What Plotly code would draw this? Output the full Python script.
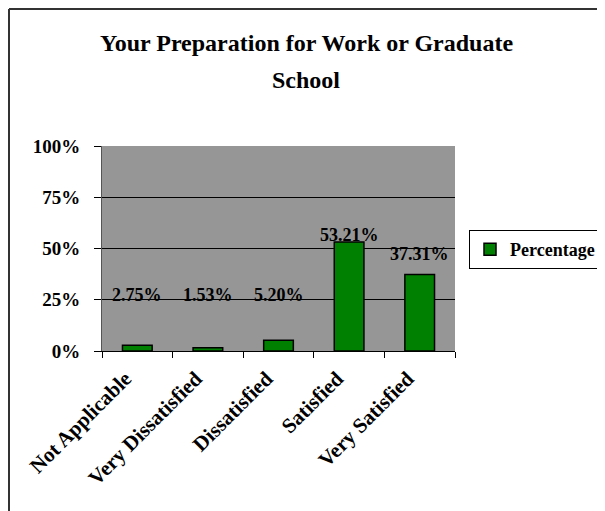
import plotly.graph_objects as go

categories = ["Not Applicable", "Very Dissatisfied", "Dissatisfied", "Satisfied", "Very Satisfied"]
percentages = [2.75, 1.53, 5.20, 53.21, 37.31]
label_texts = ["2.75%", "1.53%", "5.20%", "53.21%", "37.31%"]
y_tickvals = [0, 25, 50, 75, 100]
y_ticktext = ["0%", "25%", "50%", "75%", "100%"]

SERIF = "Liberation Serif, Times New Roman, serif"
OFF = 8  # the page's body margin pushes the figure 8px right and down
W, H = 605 - OFF, 511 - OFF
PL, PR, PT, PB = 102, 455, 146, 351  # plot box in screen px
PW, PH = PR - PL, PB - PT
L, T = PL - OFF, PT - OFF
R, B = W - L - PW, H - T - PH


def px_x(px):
    return (px - PL) / PW


def px_y(py):
    return (PB - py) / PH


fig = go.Figure(
    go.Bar(
        x=categories,
        y=percentages,
        name="Percentage",
        width=0.42,
        marker=dict(color="#008000", line=dict(color="black", width=1.5)),
    )
)

# Excel placed the data labels a bit oddly; offsets
label_shifts = [50, 53, 45, 7, 21]
for cat, val, txt, shift in zip(categories, percentages, label_texts, label_shifts):
    fig.add_annotation(
        x=cat, y=val, text=txt, showarrow=False, yshift=shift, yanchor="middle",
        font=dict(family=SERIF, size=18, color="black", weight="bold"),
    )

for line, ypx in (("Your Preparation for Work or Graduate", 43), ("School", 80)):
    fig.add_annotation(
        xref="paper", yref="paper", x=px_x(306), y=px_y(ypx),
        text=line, showarrow=False, yanchor="middle",
        font=dict(family=SERIF, size=24, color="black", weight="bold"),
    )

# chart frame (only top and left edges show in the crop)
fig.add_shape(type="line", xref="paper", yref="paper",
              x0=px_x(OFF + 1), x1=px_x(620), y0=px_y(OFF + 1), y1=px_y(OFF + 1),
              line=dict(color="#333333", width=2))
fig.add_shape(type="line", xref="paper", yref="paper",
              x0=px_x(OFF + 1), x1=px_x(OFF + 1), y0=px_y(OFF + 1), y1=px_y(530),
              line=dict(color="#333333", width=2))

fig.update_layout(
    width=W,
    height=H,
    margin=dict(l=L, r=R, t=T, b=B, autoexpand=False),
    paper_bgcolor="white",
    plot_bgcolor="#969696",
    font=dict(family=SERIF, color="black", weight="bold"),
    showlegend=True,
    legend=dict(
        x=px_x(469), y=px_y(230),
        xanchor="left", yanchor="top",
        bordercolor="black", borderwidth=1,
        font=dict(family=SERIF, size=18, weight="bold"),
        itemwidth=30,
        tracegroupgap=0,
    ),
    bargap=0.58,
    xaxis=dict(
        tickangle=-45,
        tickfont=dict(family=SERIF, size=21, weight="bold"),
        ticks="outside", ticklen=6, tickcolor="black",
        tickson="boundaries",
        ticklabelshift=-12,
        ticklabelstandoff=6,
        showline=True, linecolor="black", linewidth=1,
        showgrid=False,
    ),
    yaxis=dict(
        range=[0, 100],
        tickvals=y_tickvals,
        ticktext=y_ticktext,
        tickfont=dict(family=SERIF, size=19, weight="bold"),
        ticks="outside", ticklen=7, tickcolor="black",
        ticklabelstandoff=10,
        showline=True, linecolor="#555555", linewidth=1,
        showgrid=True, gridcolor="black", gridwidth=1,
        zeroline=False,
    ),
)

fig.write_html("out.html")
